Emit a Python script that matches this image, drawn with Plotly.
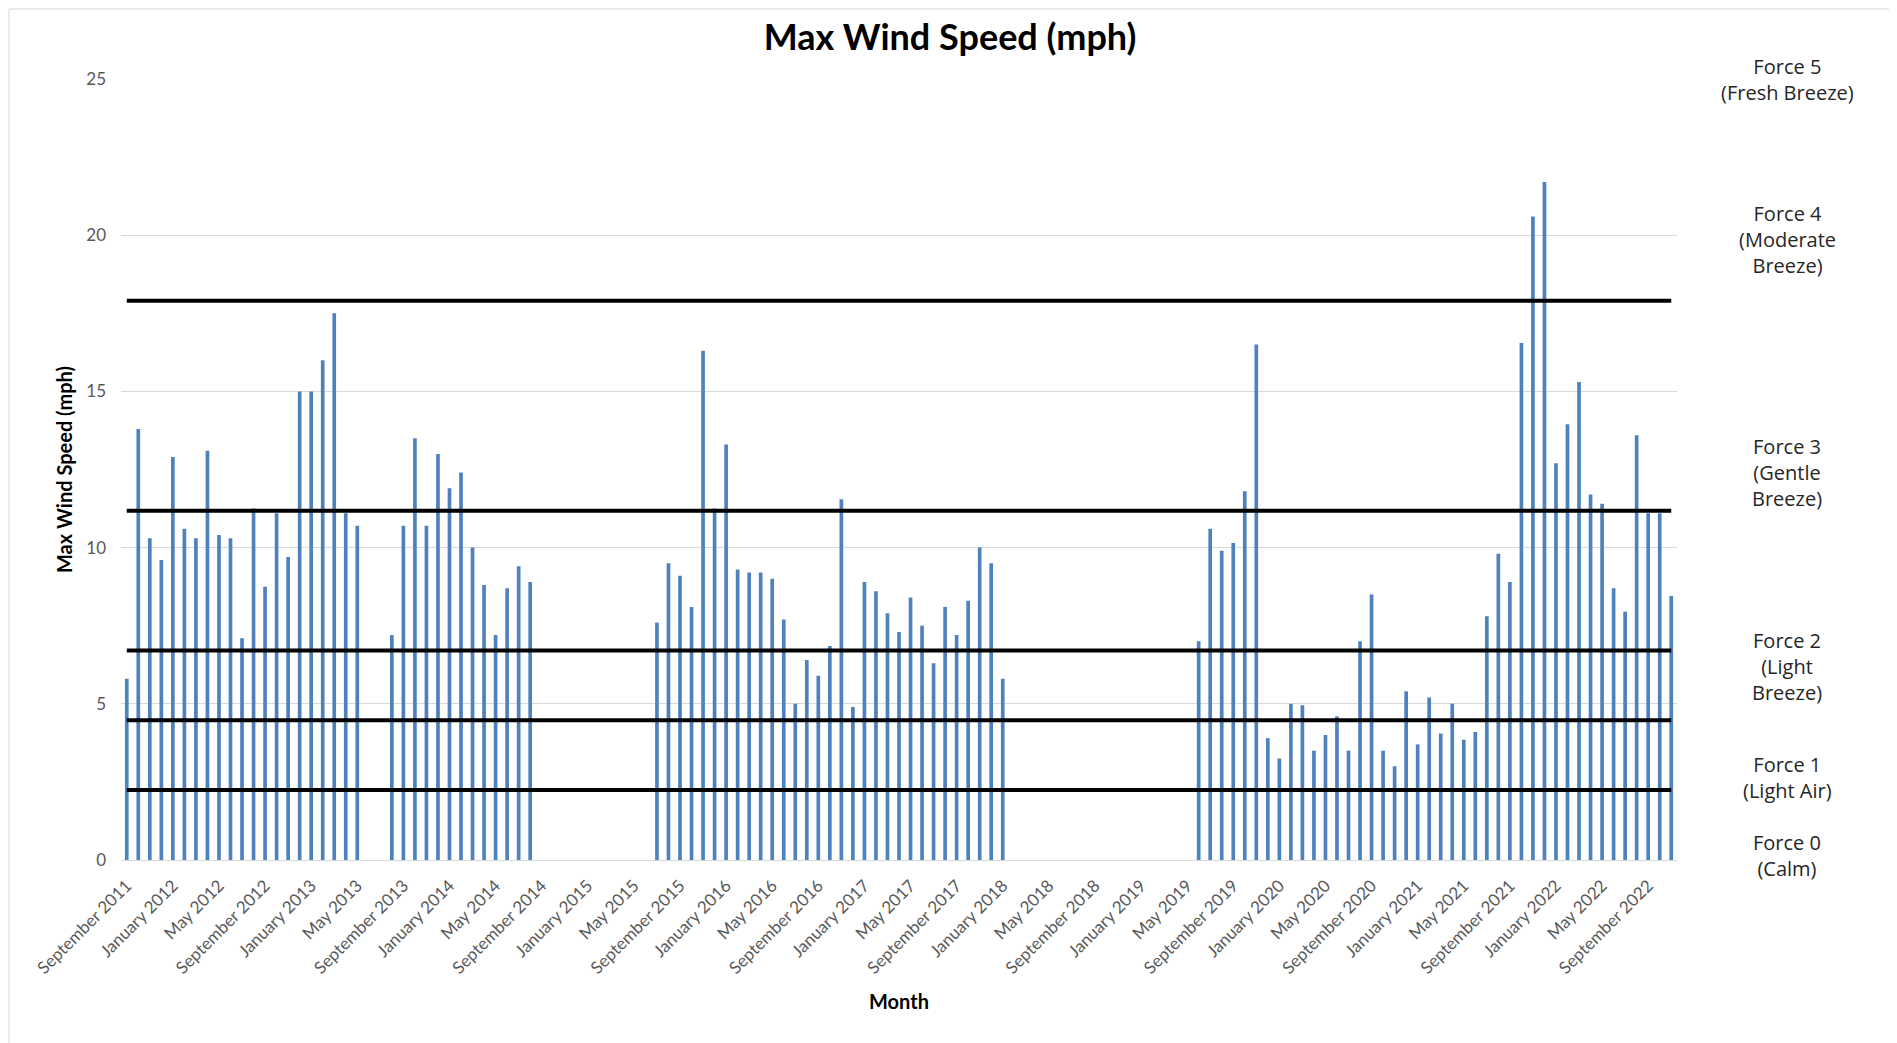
import pandas as pd
import plotly.graph_objects as go

months = pd.date_range("2011-09-01", periods=135, freq="MS").strftime("%B %Y").tolist()

max_wind = [
    5.8, 13.8, 10.3, 9.6, 12.9, 10.6, 10.3, 13.1, 10.4, 10.3, 7.1, 11.25,
    8.75, 11.1, 9.7, 15.0, 15.0, 16.0, 17.5, 11.1, 10.7, None, None, 7.2,
    10.7, 13.5, 10.7, 13.0, 11.9, 12.4, 10.0, 8.8, 7.2, 8.7, 9.4, 8.9,
    None, None, None, None, None, None, None, None, None, None, 7.6, 9.5,
    9.1, 8.1, 16.3, 11.25, 13.3, 9.3, 9.2, 9.2, 9.0, 7.7, 5.0, 6.4,
    5.9, 6.85, 11.55, 4.9, 8.9, 8.6, 7.9, 7.3, 8.4, 7.5, 6.3, 8.1,
    7.2, 8.3, 10.0, 9.5, 5.8, None, None, None, None, None, None, None,
    None, None, None, None, None, None, None, None, None, 7.0, 10.6, 9.9,
    10.15, 11.8, 16.5, 3.9, 3.25, 5.0, 4.95, 3.5, 4.0, 4.6, 3.5, 7.0,
    8.5, 3.5, 3.0, 5.4, 3.7, 5.2, 4.05, 5.0, 3.85, 4.1, 7.8, 9.8,
    8.9, 16.55, 20.6, 21.7, 12.7, 13.95, 15.3, 11.7, 11.4, 8.7, 7.95, 13.6,
    11.1, 11.1, 8.45,
]

# Beaufort boundaries (mph)
beaufort_limits = [2.24, 4.47, 6.71, 11.18, 17.9]

force_labels = [
    "Force 0<br>(Calm)",
    "Force 1<br>(Light Air)",
    "Force 2<br>(Light<br>Breeze)",
    "Force 3<br>(Gentle<br>Breeze)",
    "Force 4<br>(Moderate<br>Breeze)",
    "Force 5<br>(Fresh Breeze)",
]
force_label_y = [0.15, 2.65, 6.2, 12.4, 19.85, 25.0]

tick_months = months[::4]

fig = go.Figure()
fig.add_trace(go.Bar(
    x=months, y=max_wind,
    marker=dict(color="#4f81bd", line=dict(width=0)),
    showlegend=False,
))
for lim in beaufort_limits:
    fig.add_trace(go.Scatter(
        x=months, y=[lim] * len(months), mode="lines",
        line=dict(color="black", width=4),
        showlegend=False, hoverinfo="skip",
    ))

for txt, yv in zip(force_labels, force_label_y):
    fig.add_annotation(
        x=1.0707, xref="paper", y=yv, yref="y", text=txt, showarrow=False,
        font=dict(family="Open Sans", size=20, color="#262626"),
        align="center", xanchor="center", yanchor="middle",
    )

# light chart border like the Excel chart area
plot_l, plot_r, plot_t, plot_b = 113, 228, 71, 191
pw = 1897 - plot_l - plot_r
ph = 1043 - plot_t - plot_b
fig.add_shape(
    type="rect", xref="paper", yref="paper",
    x0=(1 - plot_l) / pw, x1=(1885 - plot_l) / pw,
    y0=-(plot_b - 1) / ph, y1=(ph + plot_t - 1) / ph,
    line=dict(color="#d9d9d9", width=1), layer="below",
)

fig.update_layout(
    width=1897, height=1043,
    margin=dict(l=plot_l, r=plot_r, t=plot_t, b=plot_b),
    paper_bgcolor="white", plot_bgcolor="white",
    bargap=0.68,
    font=dict(family="Lato", color="#595959"),
    title=dict(
        text="<b>Max Wind Speed (mph)</b>", x=0.4966, xref="container", y=0.972,
        xanchor="center", yanchor="middle",
        font=dict(family="Lato", size=36, color="black"),
    ),
    xaxis=dict(
        tickmode="array", tickvals=tick_months, ticktext=tick_months,
        tickangle=-45, tickfont=dict(size=17, color="#595959"),
        showgrid=False, showline=True, linecolor="#d9d9d9", linewidth=1,
        ticks="", range=[-0.5, len(months) - 0.5], ticklabelstandoff=8,
        title=dict(text="<b>Month</b>", font=dict(size=20, color="black"), standoff=18),
    ),
    yaxis=dict(
        range=[0, 25], tickvals=[0, 5, 10, 15, 20, 25],
        tickfont=dict(size=17, color="#595959"),
        showgrid=True, gridcolor="#d9d9d9", gridwidth=1,
        zeroline=False, showline=False, ticks="", ticklabelstandoff=14,
        title=dict(text="<b>Max Wind Speed (mph)</b>", font=dict(size=20, color="black"), standoff=8),
    ),
)

fig.write_html("out.html")
